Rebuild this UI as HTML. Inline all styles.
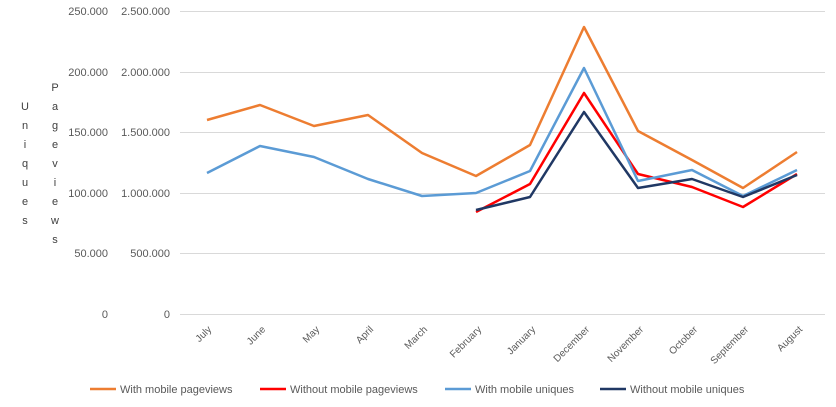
<!DOCTYPE html>
<html><head><meta charset="utf-8"><style>
body{margin:0;background:#fff;}
svg{display:block;font-family:"Liberation Sans",sans-serif;}
</style></head><body>
<svg width="836" height="407" viewBox="0 0 836 407">
<g stroke="#d9d9d9" stroke-width="1">
<line x1="180" y1="11.5" x2="825" y2="11.5"/>
<line x1="180" y1="72.5" x2="825" y2="72.5"/>
<line x1="180" y1="132.5" x2="825" y2="132.5"/>
<line x1="180" y1="193.5" x2="825" y2="193.5"/>
<line x1="180" y1="253.5" x2="825" y2="253.5"/>
<line x1="180" y1="314.5" x2="825" y2="314.5"/>
</g>
<g font-size="11" fill="#595959" text-anchor="end">
<text x="108" y="15">250.000</text>
<text x="108" y="76">200.000</text>
<text x="108" y="136">150.000</text>
<text x="108" y="197">100.000</text>
<text x="108" y="257">50.000</text>
<text x="108" y="318">0</text>
<text x="170" y="15">2.500.000</text>
<text x="170" y="76">2.000.000</text>
<text x="170" y="136">1.500.000</text>
<text x="170" y="197">1.000.000</text>
<text x="170" y="257">500.000</text>
<text x="170" y="318">0</text>
</g>
<g font-size="11" fill="#404040" text-anchor="middle">
<text x="25" y="110">U</text><text x="25" y="129">n</text><text x="25" y="148">i</text><text x="25" y="167">q</text><text x="25" y="186">u</text><text x="25" y="205">e</text><text x="25" y="224">s</text>
<text x="55" y="91">P</text><text x="55" y="110">a</text><text x="55" y="129">g</text><text x="55" y="148">e</text><text x="55" y="167">v</text><text x="55" y="186">i</text><text x="55" y="205">e</text><text x="55" y="224">w</text><text x="55" y="243">s</text>
</g>
<g font-size="10" fill="#595959" text-anchor="end">
<text transform="translate(212,330) rotate(-45)">July</text>
<text transform="translate(266,330) rotate(-45)">June</text>
<text transform="translate(320,330) rotate(-45)">May</text>
<text transform="translate(374,330) rotate(-45)">April</text>
<text transform="translate(428,330) rotate(-45)">March</text>
<text transform="translate(482,330) rotate(-45)">February</text>
<text transform="translate(536,330) rotate(-45)">January</text>
<text transform="translate(590,330) rotate(-45)">December</text>
<text transform="translate(644,330) rotate(-45)">November</text>
<text transform="translate(698,330) rotate(-45)">October</text>
<text transform="translate(749,330) rotate(-45)">September</text>
<text transform="translate(803,330) rotate(-45)">August</text>
</g>
<g fill="none" stroke-width="2.5" stroke-linejoin="round">
<polyline stroke="#ed7d31" points="207,120 260,105 314,126 368,115 422,153 476,176 530,145 584,27 638,131 692,160 743,188 797,152"/>
<polyline stroke="#ff0000" points="476,212 530,184 584,93 638,174 692,187 743,207 797,174"/>
<polyline stroke="#5b9bd5" points="207,173 260,146 314,157 368,179 422,196 476,193 530,171 584,68 638,181 692,170 743,196 797,170"/>
<polyline stroke="#203864" points="476,210 530,197 584,112 638,188 692,179 743,197 797,175"/>
</g>
<g font-size="11" fill="#595959">
<line x1="90" y1="389" x2="116" y2="389" stroke="#ed7d31" stroke-width="2.5"/><text x="120" y="393">With mobile pageviews</text>
<line x1="260" y1="389" x2="286" y2="389" stroke="#ff0000" stroke-width="2.5"/><text x="290" y="393">Without mobile pageviews</text>
<line x1="445" y1="389" x2="471" y2="389" stroke="#5b9bd5" stroke-width="2.5"/><text x="475" y="393">With mobile uniques</text>
<line x1="600" y1="389" x2="626" y2="389" stroke="#203864" stroke-width="2.5"/><text x="630" y="393">Without mobile uniques</text>
</g>
</svg>
</body></html>
